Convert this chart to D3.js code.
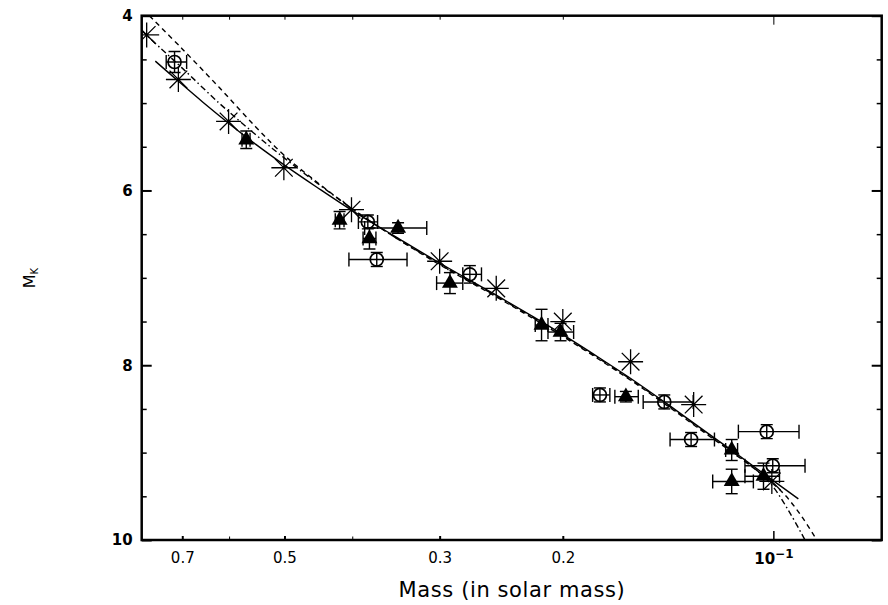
<!DOCTYPE html>
<html>
<head>
<meta charset="utf-8">
<script src="https://cdn.jsdelivr.net/npm/d3@7"></script>
<style>
  body { margin: 0; background: #fff; }
  svg { display: block; }
</style>
</head>
<body>
<div id="chart"></div>
<script>
// asterisks (no error bars)
var starMass = [0.787, 0.709, 0.601, 0.501, 0.401, 0.300, 0.249, 0.200, 0.160, 0.130, 0.1005];
var starMk   = [4.22, 4.73, 5.21, 5.74, 6.22, 6.81, 7.12, 7.50, 7.96, 8.45, 9.33];

// filled triangles with error bars
var triMass   = [0.567, 0.417, 0.378, 0.344, 0.290, 0.2145, 0.2015, 0.1625, 0.1147, 0.1147, 0.1033];
var triMk     = [5.42, 6.34, 6.55, 6.43, 7.06, 7.54, 7.62, 8.36, 8.97, 9.33, 9.27];
var triMassHi = [0.575, 0.423, 0.386, 0.384, 0.303, 0.219, 0.210, 0.1685, 0.117, 0.1221, 0.1098];
var triMassLo = [0.560, 0.411, 0.370, 0.313, 0.278, 0.210, 0.193, 0.156, 0.1125, 0.1068, 0.098];
var triMkErr  = [0.10, 0.10, 0.12, 0.06, 0.12, 0.18, 0.10, 0.06, 0.12, 0.14, 0.15];

// open circles with error bars
var cirMass   = [0.718, 0.380, 0.369, 0.2716, 0.177, 0.1432, 0.1311, 0.1022, 0.1002];
var cirMk     = [4.53, 6.36, 6.79, 6.96, 8.34, 8.42, 8.85, 8.76, 9.15];
var cirMassHi = [0.738, 0.392, 0.4044, 0.278, 0.1813, 0.1535, 0.1405, 0.1122, 0.1098];
var cirMassLo = [0.690, 0.368, 0.334, 0.2614, 0.1713, 0.1302, 0.1214, 0.0919, 0.0901];
var cirMkErr  = [0.12, 0.08, 0.08, 0.10, 0.08, 0.08, 0.08, 0.08, 0.08];

// solid fit
var fitMass = [0.765, 0.709, 0.654, 0.601, 0.55, 0.50, 0.45, 0.40, 0.35, 0.30, 0.25, 0.22, 0.20, 0.177, 0.158, 0.142, 0.125, 0.1153, 0.1045, 0.0921];
var fitMk   = [4.52, 4.75, 4.99, 5.23, 5.47, 5.71, 5.96, 6.23, 6.51, 6.83, 7.19, 7.45, 7.65, 7.92, 8.18, 8.44, 8.76, 8.96, 9.21, 9.53];

// dashed model
var dashMass = [0.78, 0.70, 0.62, 0.55, 0.50, 0.45, 0.40, 0.35, 0.30, 0.25, 0.22, 0.20, 0.177, 0.158, 0.142, 0.125, 0.1153, 0.105, 0.0969, 0.0911, 0.0867];
var dashMk   = [4.00, 4.38, 4.82, 5.27, 5.60, 5.90, 6.21, 6.52, 6.85, 7.21, 7.47, 7.67, 7.94, 8.20, 8.46, 8.78, 8.98, 9.22, 9.46, 9.73, 10.0];

// dash-dot model
var dotMass = [0.80, 0.75, 0.70, 0.62, 0.55, 0.50, 0.45, 0.40, 0.35, 0.30, 0.25, 0.22, 0.20, 0.177, 0.158, 0.142, 0.125, 0.1153, 0.105, 0.1001, 0.0947, 0.0901];
var dotMk   = [4.17, 4.38, 4.60, 5.00, 5.36, 5.63, 5.91, 6.21, 6.52, 6.84, 7.20, 7.46, 7.66, 7.93, 8.19, 8.45, 8.77, 8.97, 9.22, 9.39, 9.69, 10.0];

// ticks
var xMajor = [0.7, 0.5, 0.3, 0.2];
var xMinor = [0.6, 0.4];
var xDecade = [0.1];
var yMajor = [4, 6, 8, 10];
var yMinor = [4.5, 5, 5.5, 6.5, 7, 7.5, 8.5, 9, 9.5];

var W = 888, H = 605;
var pL = 141.7, pR = 881.7, pT = 15.7, pB = 540;

var svg = d3.select("#chart").append("svg")
    .attr("width", W)
    .attr("height", H);

var x = d3.scaleLog().domain([0.8, 0.07]).range([pL, pR]);
var y = d3.scaleLinear().domain([4, 10]).range([pT, pB]);

svg.append("clipPath").attr("id", "plotclip")
  .append("rect")
    .attr("x", pL).attr("y", pT)
    .attr("width", pR - pL).attr("height", pB - pT);

var plot = svg.append("g").attr("clip-path", "url(#plotclip)");

// curves
function curve(ms, ks, dash) {
  var pts = ms.map(function(m, i) { return [m, ks[i]]; });
  var line = d3.line()
      .x(function(d) { return x(d[0]); })
      .y(function(d) { return y(d[1]); })
      .curve(d3.curveCatmullRom.alpha(0.5));
  plot.append("path")
      .attr("d", line(pts))
      .attr("fill", "none")
      .attr("stroke", "#000")
      .attr("stroke-width", 1.4)
      .attr("stroke-dasharray", dash);
}
curve(fitMass, fitMk, null);
curve(dashMass, dashMk, "5,4");
curve(dotMass, dotMk, "6,3,1.5,3");

// error bars
function errorBars(ms, ks, lo, hi, ke) {
  var g = plot.append("g").attr("stroke", "#000").attr("stroke-width", 1.4);
  ms.forEach(function(m, i) {
    var cy = y(ks[i]), cx = x(m);
    var x0 = x(lo[i]), x1 = x(hi[i]);
    g.append("line").attr("x1", x0).attr("x2", x1).attr("y1", cy).attr("y2", cy);
    g.append("line").attr("x1", x0).attr("x2", x0).attr("y1", cy - 7).attr("y2", cy + 7);
    g.append("line").attr("x1", x1).attr("x2", x1).attr("y1", cy - 7).attr("y2", cy + 7);
    var y0 = y(ks[i] - ke[i]), y1 = y(ks[i] + ke[i]);
    g.append("line").attr("x1", cx).attr("x2", cx).attr("y1", y0).attr("y2", y1);
    g.append("line").attr("x1", cx - 6).attr("x2", cx + 6).attr("y1", y0).attr("y2", y0);
    g.append("line").attr("x1", cx - 6).attr("x2", cx + 6).attr("y1", y1).attr("y2", y1);
  });
}
errorBars(triMass, triMk, triMassLo, triMassHi, triMkErr);
errorBars(cirMass, cirMk, cirMassLo, cirMassHi, cirMkErr);

// open circles
plot.selectAll("circle.c")
    .data(cirMass)
  .enter().append("circle")
    .attr("cx", function(d) { return x(d); })
    .attr("cy", function(d, i) { return y(cirMk[i]); })
    .attr("r", 6.5)
    .attr("fill", "none")
    .attr("stroke", "#000")
    .attr("stroke-width", 1.7);

// filled triangles
var tri = d3.symbol().type(d3.symbolTriangle).size(110);
plot.selectAll("path.t")
    .data(triMass)
  .enter().append("path")
    .attr("d", tri)
    .attr("transform", function(d, i) { return "translate(" + x(d) + "," + y(triMk[i]) + ")"; })
    .attr("fill", "#000");

// asterisks, 8 arms
var r = 12.5;
var star = "";
for (var a = 0; a < 4; a++) {
  var ang = a * Math.PI / 4;
  var dx = r * Math.cos(ang), dy = r * Math.sin(ang);
  star += "M" + (-dx) + "," + (-dy) + "L" + dx + "," + dy;
}
plot.selectAll("path.s")
    .data(starMass)
  .enter().append("path")
    .attr("d", star)
    .attr("transform", function(d, i) { return "translate(" + x(d) + "," + y(starMk[i]) + ")"; })
    .attr("fill", "none")
    .attr("stroke", "#000")
    .attr("stroke-width", 1.3);

// axes, ticks pointing inwards
function tidy(g) { g.select(".domain").remove(); g.selectAll("line").attr("stroke", "#000"); }

svg.append("g")
    .attr("transform", "translate(0," + pB + ")")
    .call(d3.axisBottom(x).tickValues(xMajor).tickSize(-4).tickPadding(12)
      .tickFormat(function(d) { return d3.format(".1f")(d); }))
    .call(tidy)
    .call(function(g) {
      g.selectAll("line").attr("stroke-width", 2);
      g.selectAll("text").attr("fill", "#000")
        .style("font-family", "DejaVu Sans").style("font-size", "15px");
    });

svg.append("g")
    .attr("transform", "translate(0," + pB + ")")
    .call(d3.axisBottom(x).tickValues(xMinor).tickSize(-3.5).tickFormat(""))
    .call(tidy);

var dec = svg.append("g")
    .attr("transform", "translate(0," + pB + ")")
    .call(d3.axisBottom(x).tickValues(xDecade).tickSize(-9).tickPadding(13).tickFormat(""))
    .call(tidy);
dec.selectAll("line").attr("stroke-width", 1.5);
var decText = dec.selectAll(".tick text")
    .text("10")
    .attr("fill", "#000")
    .style("font-family", "DejaVu Sans")
    .style("font-weight", "bold")
    .style("font-size", "15px");
decText.append("tspan")
    .attr("dy", "-0.45em")
    .style("font-size", "12px")
    .text("\u22121");

svg.append("g")
    .attr("transform", "translate(0," + pT + ")")
    .call(d3.axisTop(x).tickValues(xMajor.concat(xMinor)).tickSize(-4).tickFormat(""))
    .call(tidy);
svg.append("g")
    .attr("transform", "translate(0," + pT + ")")
    .call(d3.axisTop(x).tickValues(xDecade).tickSize(-9).tickFormat(""))
    .call(tidy);

svg.append("g")
    .attr("transform", "translate(" + pL + ",0)")
    .call(d3.axisLeft(y).tickValues(yMajor).tickSize(-10).tickPadding(9).tickFormat(d3.format("d")))
    .call(tidy)
    .call(function(g) {
      g.selectAll("line").attr("stroke-width", 2);
      g.selectAll("text").attr("fill", "#000")
        .style("font-family", "DejaVu Sans").style("font-weight", "bold").style("font-size", "15px");
    });
svg.append("g")
    .attr("transform", "translate(" + pL + ",0)")
    .call(d3.axisLeft(y).tickValues(yMinor).tickSize(-5).tickFormat(""))
    .call(tidy)
    .call(function(g) { g.selectAll("line").attr("stroke-width", 1.5); });

svg.append("g")
    .attr("transform", "translate(" + pR + ",0)")
    .call(d3.axisRight(y).tickValues(yMajor).tickSize(-10).tickFormat(""))
    .call(tidy)
    .call(function(g) { g.selectAll("line").attr("stroke-width", 2); });
svg.append("g")
    .attr("transform", "translate(" + pR + ",0)")
    .call(d3.axisRight(y).tickValues(yMinor).tickSize(-5).tickFormat(""))
    .call(tidy)
    .call(function(g) { g.selectAll("line").attr("stroke-width", 1.5); });

// frame
svg.append("rect")
    .attr("x", pL).attr("y", pT)
    .attr("width", pR - pL).attr("height", pB - pT)
    .attr("fill", "none")
    .attr("stroke", "#000")
    .attr("stroke-width", 2.5);

// axis titles
svg.append("text")
    .attr("x", 512)
    .attr("y", 597)
    .attr("text-anchor", "middle")
    .attr("fill", "#000")
    .style("font-family", "DejaVu Sans")
    .style("font-size", "21px")
    .style("letter-spacing", "0.6px")
    .text("Mass (in solar mass)");

var yt = svg.append("text")
    .attr("transform", "translate(35,278) rotate(-90)")
    .attr("text-anchor", "middle")
    .attr("fill", "#000")
    .style("font-family", "DejaVu Sans")
    .style("font-size", "16px")
    .text("M");
yt.append("tspan")
    .attr("dy", "0.3em")
    .style("font-size", "10px")
    .text("K");
</script>
</body>
</html>
